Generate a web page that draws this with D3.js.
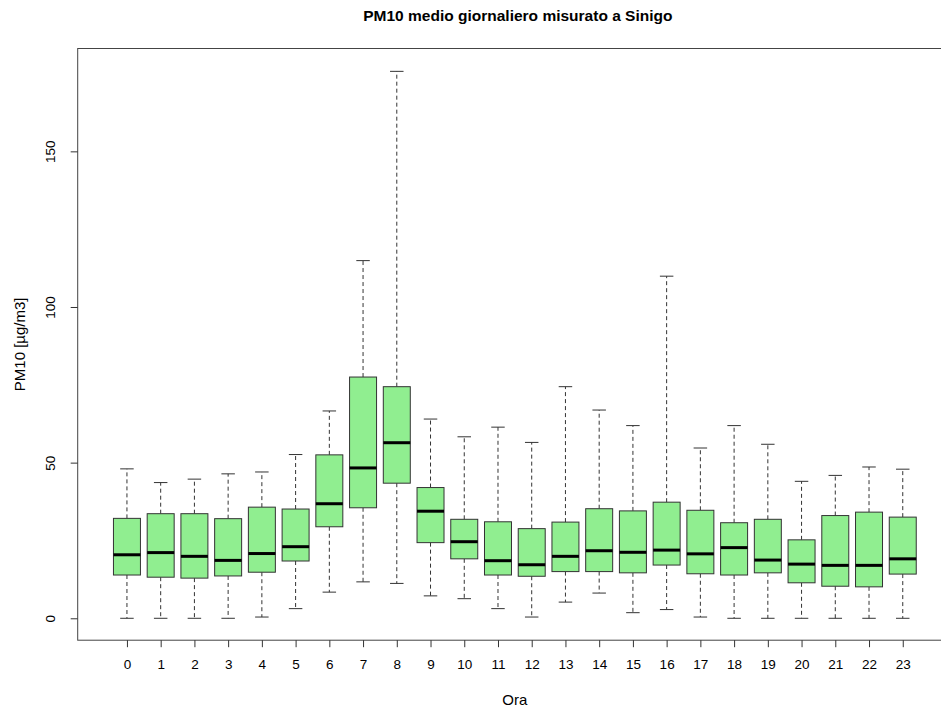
<!DOCTYPE html>
<html>
<head>
<meta charset="utf-8">
<script src="https://cdn.jsdelivr.net/npm/d3@7"></script>
<style>
  html, body { margin: 0; padding: 0; background: #fff; }
  svg { display: block; font-family: "Liberation Sans", Arial, Helvetica, sans-serif; }
</style>
</head>
<body>
<svg id="chart" width="941" height="711"></svg>
<script>
// Hourly PM10 distribution (µg/m3) at Sinigo: five-number summaries per hour
const hours = ["0","1","2","3","4","5","6","7","8","9","10","11","12","13","14","15","16","17","18","19","20","21","22","23"];
const whiskerLow  = [0, 0, 0, 0, 0.4, 3.1, 8.4, 11.7, 11.2, 7.2, 6.3, 3.1, 0.4, 5.2, 8.1, 1.8, 2.8, 0.4, 0, 0, 0, 0, 0, 0];
const q1          = [13.9, 13.2, 12.9, 13.6, 14.8, 18.4, 29.4, 35.5, 43.4, 24.3, 19.1, 13.9, 13.5, 15.0, 15.0, 14.6, 17.1, 14.3, 13.9, 14.6, 11.4, 10.3, 10.1, 14.2];
const median      = [20.4, 21.1, 19.9, 18.6, 20.8, 23.0, 36.8, 48.3, 56.4, 34.4, 24.6, 18.5, 17.2, 19.9, 21.7, 21.2, 21.9, 20.7, 22.7, 18.7, 17.4, 17.0, 17.0, 19.1];
const q3          = [32.1, 33.6, 33.6, 32.0, 35.7, 35.1, 52.5, 77.5, 74.4, 42.0, 31.8, 31.0, 28.8, 30.9, 35.2, 34.5, 37.3, 34.7, 30.7, 31.8, 25.2, 33.0, 34.1, 32.5];
const whiskerHigh = [48.0, 43.6, 44.7, 46.4, 47.0, 52.6, 66.6, 114.9, 175.7, 64.0, 58.3, 61.4, 56.5, 74.4, 66.9, 61.9, 109.9, 54.7, 61.9, 55.9, 44.0, 45.9, 48.6, 47.9];
const yTicks = [0, 50, 100, 150];

const titleText = "PM10 medio giornaliero misurato a Sinigo";
const xTitle = "Ora";
const yTitle = "PM10 [µg/m3]";

const svg = d3.select("#chart");

// Plot region; the x range runs past the right edge of the page
const xDomain = [-0.46, hours.length + 1.46];
const x = d3.scaleLinear().domain(xDomain).range([77.7, 952]);
const yDomain = [-7.04, 183.04];
const y = d3.scaleLinear().domain(yDomain).range([640.2, 48.5]);

const boxes = hours.map((h, i) => ({
  hour: h, pos: i + 1,
  lo: whiskerLow[i], q1: q1[i], med: median[i], q3: q3[i], hi: whiskerHigh[i]
}));

const unit = x(1) - x(0);
const boxW = unit * 0.8;
const capW = boxW / 2;

const g = svg.append("g");

// whiskers (dashed)
g.selectAll("line.whisk-hi").data(boxes).join("line")
  .attr("x1", d => x(d.pos)).attr("x2", d => x(d.pos))
  .attr("y1", d => y(d.q3)).attr("y2", d => y(d.hi))
  .attr("stroke", "#333").attr("stroke-width", 1).attr("stroke-dasharray", "4,3");
g.selectAll("line.whisk-lo").data(boxes).join("line")
  .attr("x1", d => x(d.pos)).attr("x2", d => x(d.pos))
  .attr("y1", d => y(d.q1)).attr("y2", d => y(d.lo))
  .attr("stroke", "#333").attr("stroke-width", 1).attr("stroke-dasharray", "4,3");

// whisker caps
for (const key of ["hi", "lo"]) {
  g.selectAll("line.cap-" + key).data(boxes).join("line")
    .attr("x1", d => x(d.pos) - capW / 2).attr("x2", d => x(d.pos) + capW / 2)
    .attr("y1", d => y(d[key])).attr("y2", d => y(d[key]))
    .attr("stroke", "#333").attr("stroke-width", 1);
}

// boxes
g.selectAll("rect.box").data(boxes).join("rect")
  .attr("x", d => x(d.pos) - boxW / 2)
  .attr("width", boxW)
  .attr("y", d => y(d.q3))
  .attr("height", d => y(d.q1) - y(d.q3))
  .attr("fill", "#90EE90").attr("stroke", "#333").attr("stroke-width", 1);

// medians
g.selectAll("line.med").data(boxes).join("line")
  .attr("x1", d => x(d.pos) - boxW / 2).attr("x2", d => x(d.pos) + boxW / 2)
  .attr("y1", d => y(d.med)).attr("y2", d => y(d.med))
  .attr("stroke", "#000").attr("stroke-width", 3);

// frame
svg.append("rect")
  .attr("x", x(xDomain[0])).attr("y", y(yDomain[1]))
  .attr("width", x(xDomain[1]) - x(xDomain[0]))
  .attr("height", y(yDomain[0]) - y(yDomain[1]))
  .attr("fill", "none").attr("stroke", "#444").attr("stroke-width", 1);

// x axis
const xAxis = d3.axisBottom(x)
  .tickValues(boxes.map(d => d.pos))
  .tickFormat((d, i) => hours[i])
  .tickSizeInner(7).tickSizeOuter(0).tickPadding(12);
const gx = svg.append("g").attr("transform", `translate(0,${y(yDomain[0])})`).call(xAxis);
gx.select(".domain").remove();
gx.selectAll("line").attr("stroke", "#333");
gx.selectAll("text").attr("font-size", 13.5).attr("fill", "#000")
  .attr("font-family", "Liberation Sans, Arial, sans-serif");

// y axis (labels written along the axis)
const yAxis = d3.axisLeft(y).tickValues(yTicks).tickSizeInner(7).tickSizeOuter(0).tickPadding(0);
const gy = svg.append("g").attr("transform", `translate(${x(xDomain[0])},0)`).call(yAxis);
gy.select(".domain").remove();
gy.selectAll("line").attr("stroke", "#333");
gy.selectAll(".tick text")
  .attr("font-size", 13.5).attr("fill", "#000")
  .attr("font-family", "Liberation Sans, Arial, sans-serif")
  .attr("x", null).attr("y", 0).attr("dy", "0.35em")
  .attr("text-anchor", "middle")
  .attr("transform", "translate(-27,0) rotate(-90)");

// titles
const plotCx = (x(xDomain[0]) + x(xDomain[1])) / 2;
svg.append("text").attr("x", plotCx + 3).attr("y", 21)
  .attr("text-anchor", "middle").attr("font-size", 15.5).attr("font-weight", "bold")
  .text(titleText);
svg.append("text").attr("x", plotCx).attr("y", 705)
  .attr("text-anchor", "middle").attr("font-size", 15)
  .text(xTitle);
svg.append("text")
  .attr("transform", `translate(25,${(y(yDomain[0]) + y(yDomain[1])) / 2}) rotate(-90)`)
  .attr("text-anchor", "middle").attr("font-size", 15)
  .text(yTitle);
</script>
</body>
</html>
